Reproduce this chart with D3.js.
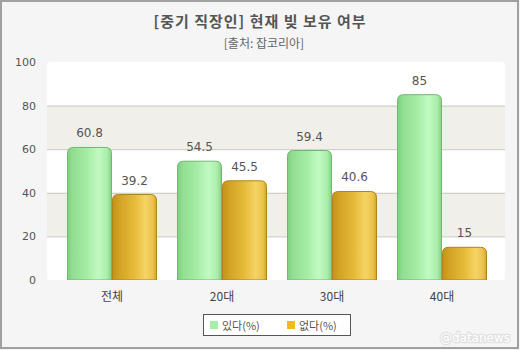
<!DOCTYPE html>
<html><head><meta charset="utf-8">
<script src="https://cdn.jsdelivr.net/npm/d3@7"></script>
<style>html,body{margin:0;padding:0;background:#fff;}svg{display:block;}</style>
</head><body>
<script>
const categories = ["전체", "20대", "30대", "40대"];
const seriesNames = ["있다(%)", "없다(%)"];
const haveValues = [60.8, 54.5, 59.4, 85];
const notValues = [39.2, 45.5, 40.6, 15];
const yTicks = [0, 20, 40, 60, 80, 100];
const titleText = "[중기 직장인] 현재 빚 보유 여부";
const subtitleText = "[출처: 잡코리아]";

const W = 520, H = 350;
const svg = d3.select("body").append("svg").attr("width", W).attr("height", H);
const defs = svg.append("defs");

function grad(id, stops) {
  const g = defs.append("linearGradient").attr("id", id).attr("x1", "0%").attr("x2", "100%").attr("y1", "0%").attr("y2", "0%");
  stops.forEach(s => g.append("stop").attr("offset", s[0]).attr("stop-color", s[1]));
}
grad("gGreen", [["0%", "#7fcf7f"], ["12%", "#92de92"], ["45%", "#a6eca6"], ["70%", "#c2fac2"], ["90%", "#aaeeaa"], ["100%", "#86d286"]]);
grad("gGold", [["0%", "#c39316"], ["15%", "#d2a224"], ["50%", "#e6bb3a"], ["75%", "#f5d465"], ["92%", "#ebc24a"], ["100%", "#d3a42c"]]);

// background
svg.append("rect").attr("x", 0).attr("y", 0).attr("width", W).attr("height", H).attr("fill", "#f5f5f5");
svg.append("rect").attr("x", 1).attr("y", 1).attr("width", W - 3).attr("height", H - 3)
  .attr("fill", "none").attr("stroke", "#a0a0a0").attr("stroke-width", 2);

// title
svg.append("text").attr("x", 260).attr("y", 27).attr("text-anchor", "middle")
  .attr("font-family", "'Noto Sans CJK KR', sans-serif").attr("font-size", 15).attr("font-weight", "bold")
  .attr("fill", "#555").attr("letter-spacing", 1).text(titleText);
svg.append("text").attr("x", 264).attr("y", 48).attr("text-anchor", "middle")
  .attr("font-family", "'Noto Sans CJK KR', sans-serif").attr("font-size", 12)
  .attr("fill", "#666").text(subtitleText);

const plotL = 47, plotR = 505, plotT = 62, plotB = 280;
const y = d3.scaleLinear().domain([0, 100]).range([plotB, plotT]);
const x0 = d3.scaleBand().domain(categories).range([57, 497]).paddingInner(20 / 110).paddingOuter(0.0909);
const x1 = d3.scaleBand().domain(seriesNames).range([0, x0.bandwidth()]);

// plot area
svg.append("rect").attr("x", plotL).attr("y", plotT).attr("width", plotR - plotL).attr("height", plotB - plotT)
  .attr("fill", "#ffffff").attr("rx", 2);
// alternating bands
[[60, 80], [20, 40]].forEach(b => {
  svg.append("rect").attr("x", plotL).attr("y", y(b[1])).attr("width", plotR - plotL).attr("height", y(b[0]) - y(b[1]))
    .attr("fill", "#f0efe9");
});
// grid lines
svg.append("g").selectAll("line").data(yTicks.filter(t => t > 0 && t < 100)).join("line")
  .attr("x1", plotL).attr("x2", plotR).attr("y1", d => y(d) + 0.5).attr("y2", d => y(d) + 0.5)
  .attr("stroke", "#c8c8c0").attr("stroke-width", 1);

// y axis
const yAxis = d3.axisLeft(y).tickValues(yTicks).tickSize(0).tickPadding(0);
const ya = svg.append("g").attr("transform", `translate(${36},0)`).call(yAxis);
ya.select(".domain").remove();
ya.selectAll("text").attr("font-family", "'DejaVu Sans', Verdana, sans-serif").attr("font-size", 11).attr("fill", "#555");

// x axis
const xAxis = d3.axisBottom(x0).tickSize(0).tickPadding(0);
const xa = svg.append("g").attr("transform", `translate(0,${292})`).call(xAxis);
xa.select(".domain").remove();
xa.selectAll("text").attr("font-family", "'Noto Sans CJK KR', sans-serif").attr("font-size", 12).attr("fill", "#444");

function topRounded(x, yTop, w, h, r) {
  r = Math.min(r, h, w / 2);
  return `M${x},${yTop + h}V${yTop + r}Q${x},${yTop} ${x + r},${yTop}H${x + w - r}Q${x + w},${yTop} ${x + w},${yTop + r}V${yTop + h}Z`;
}

const series = [
  { name: seriesNames[0], values: haveValues, fill: "url(#gGreen)", stroke: "#6fb86f" },
  { name: seriesNames[1], values: notValues, fill: "url(#gGold)", stroke: "#b08418" }
];
series.forEach(s => {
  const g = svg.append("g");
  g.selectAll("path").data(categories.map((c, i) => ({ c, v: s.values[i] }))).join("path")
    .attr("d", d => {
      const bx = x0(d.c) + x1(s.name) + 0.5;
      const bw = x1.bandwidth() - 1;
      return topRounded(bx, y(d.v), bw, plotB - y(d.v), 6);
    })
    .attr("fill", s.fill).attr("stroke", s.stroke).attr("stroke-width", 1);
  g.selectAll("text").data(categories.map((c, i) => ({ c, v: s.values[i] }))).join("text")
    .attr("x", d => x0(d.c) + x1(s.name) + x1.bandwidth() / 2)
    .attr("y", d => y(d.v) - 10)
    .attr("text-anchor", "middle")
    .attr("font-family", "'DejaVu Sans', Verdana, sans-serif").attr("font-size", 12).attr("fill", "#555")
    .text(d => d.v);
});
// bottom strip under bars (plot bottom)
svg.append("line").attr("x1", plotL).attr("x2", plotR).attr("y1", plotB + 0.5).attr("y2", plotB + 0.5)
  .attr("stroke", "#f5f5f5").attr("stroke-width", 1);

// legend
const lg = svg.append("g");
lg.append("rect").attr("x", 203.5).attr("y", 314.5).attr("width", 147).attr("height", 21)
  .attr("fill", "#fff").attr("stroke", "#555");
const legendColors = ["#a4f0a4", "#f2bb1c"];
const legendX = [210, 287];
seriesNames.forEach((n, i) => {
  lg.append("rect").attr("x", legendX[i]).attr("y", 321).attr("width", 8).attr("height", 8).attr("fill", legendColors[i]);
  lg.append("text").attr("x", legendX[i] + 12).attr("y", 329.5)
    .attr("font-family", "'Noto Sans CJK KR', sans-serif").attr("font-size", 11).attr("fill", "#555").text(n);
});

// watermark
svg.append("text").attr("x", 510).attr("y", 342).attr("text-anchor", "end")
  .attr("font-family", "'DejaVu Sans', Verdana, sans-serif").attr("font-size", 12)
  .attr("fill", "#ffffff").attr("stroke", "#e2e2e2").attr("stroke-width", 2.5).attr("paint-order", "stroke")
  .text("@datanews");
</script>
</body></html>
